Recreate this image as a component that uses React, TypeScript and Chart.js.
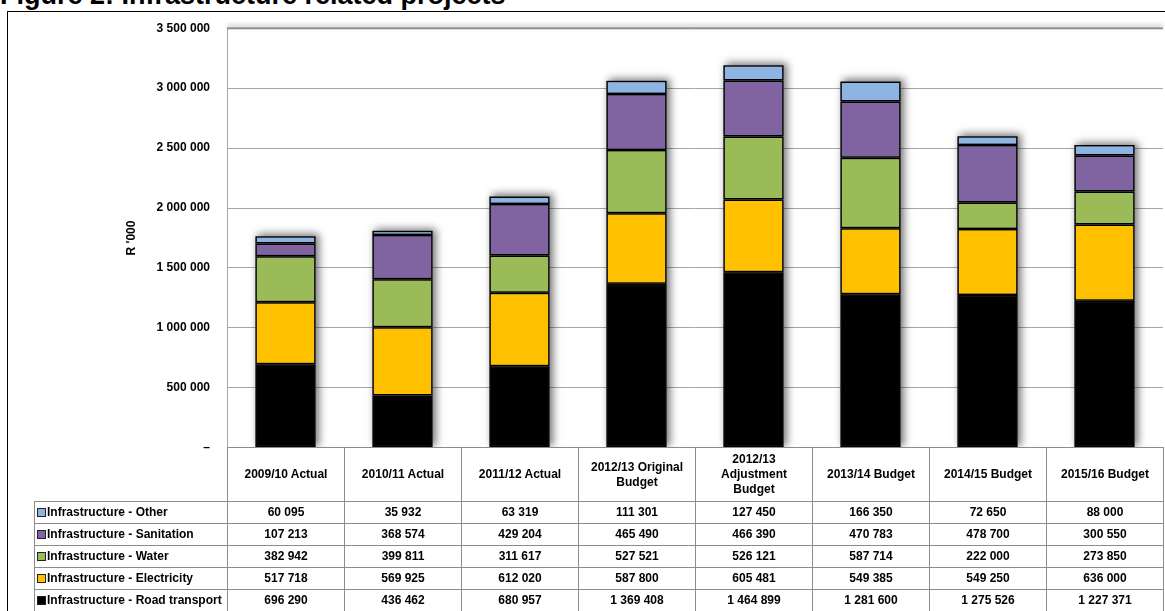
import React, { useEffect, useRef } from "react";
import { Chart, registerables } from "chart.js";

Chart.register(...registerables);

const categories: (string | string[])[] = [
  "2009/10 Actual",
  "2010/11 Actual",
  "2011/12 Actual",
  ["2012/13 Original", "Budget"],
  ["2012/13", "Adjustment", "Budget"],
  "2013/14 Budget",
  "2014/15 Budget",
  "2015/16 Budget",
];

const otherValues = [60095, 35932, 63319, 111301, 127450, 166350, 72650, 88000];
const sanitationValues = [107213, 368574, 429204, 465490, 466390, 470783, 478700, 300550];
const waterValues = [382942, 399811, 311617, 527521, 526121, 587714, 222000, 273850];
const electricityValues = [517718, 569925, 612020, 587800, 605481, 549385, 549250, 636000];
const roadValues = [696290, 436462, 680957, 1369408, 1464899, 1281600, 1275526, 1227371];

const seriesNames = [
  "Infrastructure - Other",
  "Infrastructure - Sanitation",
  "Infrastructure - Water",
  "Infrastructure - Electricity",
  "Infrastructure - Road transport",
];
const seriesColors = ["#8EB4E3", "#8064A2", "#9BBB59", "#FFC000", "#000000"];
const seriesValues = [otherValues, sanitationValues, waterValues, electricityValues, roadValues];

const yTicks = [0, 500000, 1000000, 1500000, 2000000, 2500000, 3000000, 3500000];
const yTitle = "R '000";
const figureTitle = "Figure 2: Infrastructure related projects";

const FONT = '"Liberation Sans", Arial, sans-serif';

const fmt = (v: number) => String(v).replace(/\B(?=(\d{3})+(?!\d))/g, " ");

const shadowPlugin = {
  id: "barShadow",
  beforeDatasetsDraw(chart: any) {
    const { ctx, chartArea, scales } = chart;
    ctx.save();
    ctx.strokeStyle = "rgba(140,140,140,0.9)";
    ctx.lineWidth = 2;
    ctx.shadowColor = "rgba(0,0,0,0.35)";
    ctx.shadowBlur = 4;
    ctx.shadowOffsetY = -2;
    ctx.beginPath();
    ctx.moveTo(chartArea.left, chartArea.top);
    ctx.lineTo(chartArea.right, chartArea.top);
    ctx.stroke();
    ctx.restore();

    const n = chart.data.labels.length;
    const meta = chart.getDatasetMeta(0);
    for (let i = 0; i < n; i++) {
      let total = 0;
      chart.data.datasets.forEach((d: any) => (total += d.data[i]));
      const el = meta.data[i];
      if (!el) continue;
      const top = scales.y.getPixelForValue(total);
      const bottom = scales.y.getPixelForValue(0);
      ctx.save();
      ctx.beginPath();
      ctx.rect(chartArea.left, chartArea.top - 20, chartArea.right - chartArea.left, bottom - chartArea.top + 20);
      ctx.clip();
      ctx.shadowColor = "rgba(0,0,0,0.55)";
      ctx.shadowBlur = 8;
      ctx.shadowOffsetX = 3;
      ctx.shadowOffsetY = -2;
      ctx.fillStyle = "#555";
      ctx.fillRect(el.x - el.width / 2, top, el.width, bottom - top);
      ctx.restore();
    }
  },
};

export default function App() {
  const ref = useRef<HTMLCanvasElement>(null);

  useEffect(() => {
    const order = [4, 3, 2, 1, 0];
    const chart = new Chart(ref.current!, {
      type: "bar",
      data: {
        labels: categories as any,
        datasets: order.map((k) => ({
          label: seriesNames[k],
          data: seriesValues[k],
          backgroundColor: seriesColors[k],
          borderColor: "#000",
          borderWidth: 1.5,
          borderSkipped: false,
          barPercentage: 0.515,
          categoryPercentage: 1,
        })),
      },
      options: {
        animation: false,
        responsive: false,
        maintainAspectRatio: false,
        layout: { padding: { top: 15, right: 2, bottom: 6, left: 0 } },
        plugins: {
          legend: { display: false },
          tooltip: { enabled: false },
          title: { display: false },
        },
        scales: {
          x: {
            display: false,
            stacked: true,
          },
          y: {
            stacked: true,
            min: 0,
            max: 3500000,
            afterFit: (s: any) => {
              s.width = 219;
            },
            afterBuildTicks: (s: any) => {
              s.ticks = yTicks.map((v) => ({ value: v }));
            },
            ticks: {
              padding: 17,
              color: "#000",
              font: { family: FONT, size: 12, weight: "bold" },
              callback: (v: any) => (Number(v) === 0 ? "–" : fmt(Number(v))),
            },
            grid: {
              color: "#a6a6a6",
              lineWidth: 1,
              drawTicks: false,
            },
            border: { display: true, color: "#a6a6a6", width: 1 },
            title: {
              display: true,
              text: yTitle,
              color: "#000",
              font: { family: FONT, size: 12, weight: "bold" },
              padding: { top: 116, bottom: 0 },
            },
          },
        },
      },
      plugins: [shadowPlugin],
    } as any);
    return () => chart.destroy();
  }, []);

  const border = "1px solid #8c8c8c";
  const cellStyle: React.CSSProperties = {
    border,
    padding: 0,
    textAlign: "center",
    verticalAlign: "middle",
    height: 21,
    whiteSpace: "nowrap",
  };

  return (
    <div
      style={{
        position: "absolute",
        left: 0,
        top: 0,
        width: 1165,
        height: 611,
        overflow: "hidden",
        background: "#fff",
        fontFamily: FONT,
        color: "#000",
      }}
    >
      <div
        style={{
          position: "absolute",
          left: 0,
          top: -18,
          fontSize: 27,
          lineHeight: "27px",
          fontWeight: "bold",
          whiteSpace: "nowrap",
        }}
      >
        {figureTitle}
      </div>
      <div
        style={{
          position: "absolute",
          left: 7,
          top: 11,
          width: 1200,
          height: 700,
          border: "1px solid #000",
        }}
      />
      <canvas
        ref={ref}
        width={1157}
        height={468}
        style={{ position: "absolute", left: 8, top: 4, width: 1157, height: 468 }}
      />
      <table
        style={{
          position: "absolute",
          left: 34,
          top: 447,
          borderCollapse: "collapse",
          tableLayout: "fixed",
          width: 1129,
          fontSize: 12,
          fontWeight: "bold",
          lineHeight: "15px",
        }}
      >
        <colgroup>
          <col style={{ width: 193 }} />
          {categories.map((_, i) => (
            <col key={i} style={{ width: 117 }} />
          ))}
        </colgroup>
        <tbody>
          <tr style={{ height: 54 }}>
            <td style={{ border: "none", padding: 0 }} />
            {categories.map((c, i) => (
              <td key={i} style={{ ...cellStyle, height: 53 }}>
                {Array.isArray(c)
                  ? c.map((line, j) => (
                      <React.Fragment key={j}>
                        {j > 0 && <br />}
                        {line}
                      </React.Fragment>
                    ))
                  : c}
              </td>
            ))}
          </tr>
          {seriesNames.map((name, r) => (
            <tr key={r} style={{ height: 22 }}>
              <td style={{ ...cellStyle, textAlign: "left", paddingLeft: 2 }}>
                <span
                  style={{
                    display: "inline-block",
                    width: 7,
                    height: 7,
                    border: "1px solid #222",
                    background: seriesColors[r],
                    marginRight: 1,
                    verticalAlign: "-1px",
                  }}
                />
                {name}
              </td>
              {seriesValues[r].map((v, i) => (
                <td key={i} style={cellStyle}>
                  {fmt(v)}
                </td>
              ))}
            </tr>
          ))}
        </tbody>
      </table>
    </div>
  );
}
